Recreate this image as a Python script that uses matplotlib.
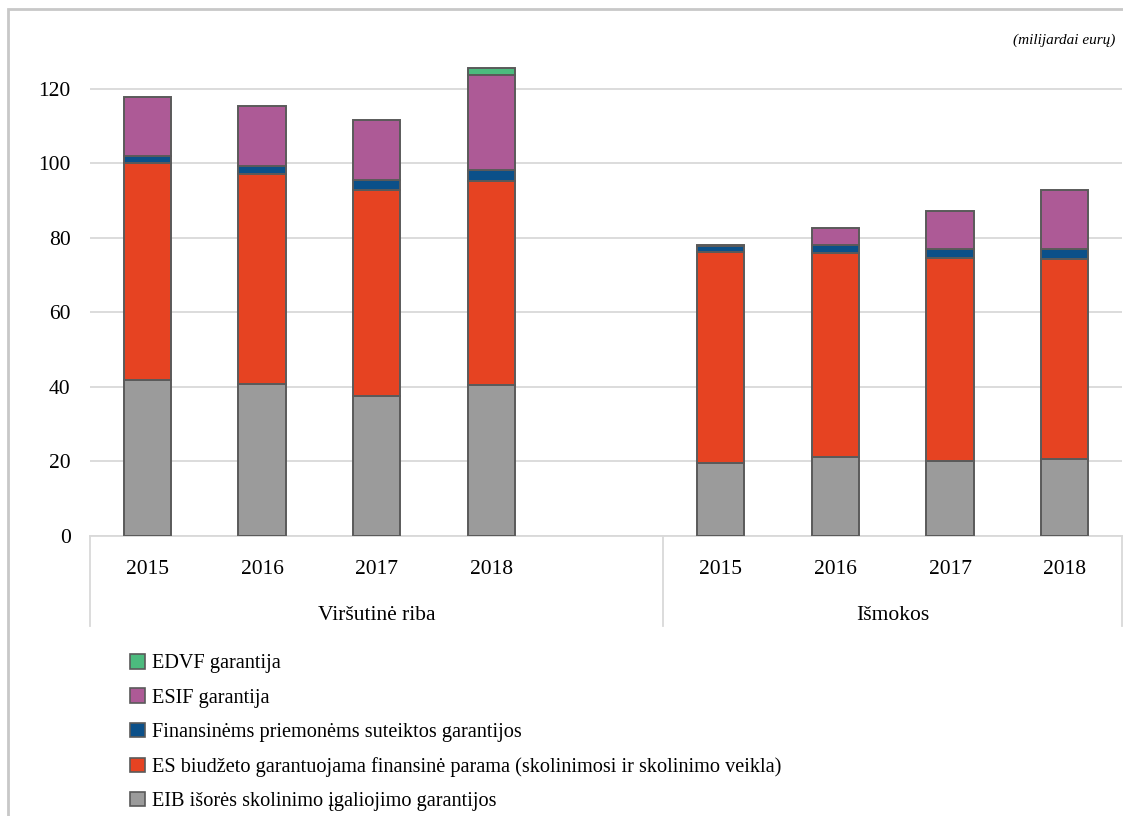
import matplotlib.pyplot as plt
from matplotlib.patches import Patch, Rectangle
from matplotlib.lines import Line2D
import numpy as np

plt.rcParams['font.family'] = ['Liberation Serif', 'DejaVu Serif']

# Two groups of years, with an empty slot between them
groups = ["Viršutinė riba", "Išmokos"]
years = ["2015", "2016", "2017", "2018"]
positions = [0, 1, 2, 3, 5, 6, 7, 8]

# Stacked components (billion EUR), first group then second group
eib = [41.9, 40.8, 37.6, 40.5, 19.6, 21.2, 20.1, 20.7]
es_budget = [58.2, 56.4, 55.3, 54.8, 56.5, 54.7, 54.4, 53.6]
fin_instr = [1.9, 2.2, 2.7, 2.8, 1.7, 2.2, 2.6, 2.7]
esif = [15.9, 16.0, 16.0, 25.7, 0.4, 4.5, 10.2, 15.9]
edvf = [0, 0, 0, 1.8, 0, 0, 0, 0]

series = [
    ("EIB išorės skolinimo įgaliojimo garantijos", eib, "#9b9b9b"),
    ("ES biudžeto garantuojama finansinė parama (skolinimosi ir skolinimo veikla)", es_budget, "#e64322"),
    ("Finansinėms priemonėms suteiktos garantijos", fin_instr, "#0b5089"),
    ("ESIF garantija", esif, "#ad5a96"),
    ("EDVF garantija", edvf, "#4cbb7e"),
]
edge = "#5a5a5a"

fig = plt.figure(figsize=(11.23, 8.16), dpi=100)
ax = fig.add_axes([90 / 1123, 1 - 536 / 816, 1032 / 1123, 503 / 816])

bottom = np.zeros(len(positions))
for name, vals, color in series:
    vals = np.array(vals)
    mask = vals > 0
    ax.bar(np.array(positions)[mask], vals[mask], width=0.41, bottom=bottom[mask],
           color=color, edgecolor=edge, linewidth=1.4, zorder=3)
    bottom += vals

ax.set_xlim(-0.5, 8.5)
ax.set_ylim(0, 135)
ax.set_yticks(range(0, 121, 20))
ax.tick_params(axis='y', length=0, pad=14, labelsize=15.5)
ax.set_xticks([])
ax.grid(axis='y', color='#d9d9d9', linewidth=1.3, zorder=0)
for s in ['top', 'right', 'left']:
    ax.spines[s].set_visible(False)
ax.spines['bottom'].set_color('#d9d9d9')
ax.spines['bottom'].set_linewidth(1.3)

# Two-level category axis
trans = ax.get_xaxis_transform()
for p, y in zip(positions, years * 2):
    ax.text(p, -0.066, y, transform=trans, ha='center', va='center', fontsize=15.5)
ax.text(2.0, -0.158, groups[0], transform=trans, ha='center', va='center', fontsize=15.5)
ax.text(6.5, -0.158, groups[1], transform=trans, ha='center', va='center', fontsize=15.5)
for xs in [-0.5, 4.5, 8.5]:
    ax.add_line(Line2D([xs, xs], [0, -0.179], transform=trans, color='#d9d9d9',
                       linewidth=1.3, clip_on=False))

fig.text(1115 / 1123, 1 - 40 / 816, "(milijardai eurų)", ha='right', va='center',
         fontsize=11, style='italic')

# Legend listed from top segment to bottom
handles = [Patch(facecolor=c, edgecolor=edge, linewidth=1.2, label=n) for n, _, c in series[::-1]]
fig.legend(handles=handles, loc='upper left', bbox_to_anchor=(122 / 1123, 1 - 646 / 816),
           frameon=False, fontsize=14.6, handlelength=0.72, handleheight=0.72,
           handletextpad=0.35, labelspacing=0.74, borderaxespad=0)

# Light border around the chart
fig.add_artist(Rectangle((8 / 1123, -0.01), 1.02, 1 - 9 / 816 + 0.01, transform=fig.transFigure,
                         fill=False, edgecolor='#c8c8c8', linewidth=2))

fig.savefig("out.png", dpi=100)
